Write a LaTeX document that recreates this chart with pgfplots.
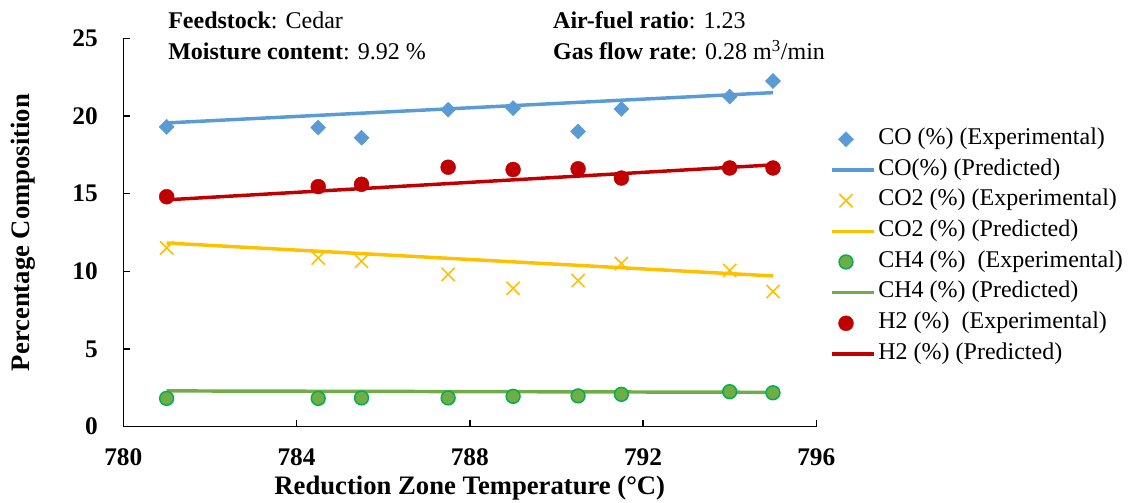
\documentclass[border=0pt]{standalone}
\usepackage{fontspec}
\setmainfont{Liberation Serif}
\usepackage{pgfplots}
\pgfplotsset{compat=1.18}
\definecolor{COBlue}{HTML}{5B9BD5}
\definecolor{COTwoGold}{HTML}{FFC000}
\definecolor{MethGreen}{HTML}{70AD47}
\definecolor{MethEdge}{HTML}{00B050}
\definecolor{HTwoRed}{HTML}{C00000}

\begin{document}
\begin{tikzpicture}
\path[use as bounding box] (-92.5pt,-57.2pt) rectangle (755.8pt,320pt);
\begin{axis}[
    at={(0pt,0pt)},
    anchor=south west,
    scale only axis,
    width=519.75pt,
    height=291.3pt,
    xmin=780, xmax=796,
    ymin=0, ymax=25,
    xtick={780,784,788,792,796},
    ytick={0,5,10,15,20,25},
    axis x line=bottom,
    axis y line=left,
    axis line style={-, black, line width=1.1pt},
    tick style={black, line width=1.1pt},
    tick align=inside,
    major tick length=5pt,
    clip=false,
    /pgf/number format/assume math mode=true,
    ticklabel style={font=\fontsize{19}{22}\selectfont\bfseries},
    xticklabel style={inner sep=0pt, anchor=north, yshift=-16pt},
    yticklabel style={inner sep=0pt, anchor=east, xshift=-19pt},
    xlabel={Reduction Zone Temperature (°C)},
    ylabel={Percentage Composition},
    label style={font=\fontsize{20}{24}\selectfont\bfseries},
    xlabel style={at={(axis description cs:0.5,-0.159)}, anchor=center, inner sep=0pt},
    ylabel style={at={(axis description cs:-0.1440,0.5)}, anchor=center, inner sep=0pt},
    legend cell align=left,
    legend style={
        draw=none,
        fill=none,
        at={(axis description cs:1.0198,0.7800)},
        anchor=north west,
        inner sep=0pt,
        row sep=0pt,
        font=\fontsize{18}{21}\selectfont,
        nodes={inner xsep=2pt, inner ysep=0pt, text height=15.5pt, text depth=7.5pt}
    },
    legend image code/.code={
        \draw[mark repeat=2, mark phase=2]
        plot coordinates {(0pt,0pt) (10.5pt,0pt) (31.5pt,0pt)};
    }
]

% CO
\addplot[only marks, mark=square*, mark size=4pt,
    mark options={rotate=45, fill=COBlue, draw=COBlue, line width=0.3pt}]
coordinates {
    (781,19.3) (784.5,19.25) (785.5,18.6) (787.5,20.4) (789,20.5)
    (790.5,19.0) (791.5,20.45) (794,21.25) (795,22.25)
};
\addlegendentry{CO (\%) (Experimental)}

\addplot[COBlue, line width=2.6pt, no marks]
coordinates {(781,19.55) (795,21.5)};
\addlegendentry{CO(\%) (Predicted)}

% CO2
\addplot[only marks, mark=x, mark size=7pt,
    mark options={draw=COTwoGold, line width=1.2pt}]
coordinates {
    (781,11.5) (784.5,10.85) (785.5,10.65) (787.5,9.8) (789,8.9)
    (790.5,9.4) (791.5,10.5) (794,10.05) (795,8.7)
};
\addlegendentry{CO2 (\%) (Experimental)}

\addplot[COTwoGold, line width=2.6pt, no marks]
coordinates {(781,11.82) (795,9.7)};
\addlegendentry{CO2 (\%) (Predicted)}

% CH4
\addplot[only marks, mark=*, mark size=5.2pt,
    mark options={fill=MethGreen, draw=MethEdge, line width=1.1pt}]
coordinates {
    (781,1.82) (784.5,1.82) (785.5,1.85) (787.5,1.85) (789,1.95)
    (790.5,1.98) (791.5,2.08) (794,2.25) (795,2.18)
};
\addlegendentry{CH4 (\%)\ \ (Experimental)}

\addplot[MethGreen, line width=2.6pt, no marks]
coordinates {(781,2.3) (795,2.21)};
\addlegendentry{CH4 (\%) (Predicted)}

% H2
\addplot[only marks, mark=*, mark size=5.6pt,
    mark options={fill=HTwoRed, draw=HTwoRed, line width=0.3pt}]
coordinates {
    (781,14.8) (784.5,15.45) (785.5,15.6) (787.5,16.7) (789,16.55)
    (790.5,16.6) (791.5,16.0) (794,16.65) (795,16.65)
};
\addlegendentry{H2 (\%)\ \ (Experimental)}

\addplot[HTwoRed, line width=2.6pt, no marks]
coordinates {(781,14.6) (795,16.85)};
\addlegendentry{H2 (\%) (Predicted)}

% run conditions
\node[anchor=base west, inner sep=0pt, font=\fontsize{18}{21}\selectfont]
    at (axis description cs:0.0645,1.024) {\textbf{Feedstock}: Cedar};
\node[anchor=base west, inner sep=0pt, font=\fontsize{18}{21}\selectfont]
    at (axis description cs:0.0645,0.9454) {\textbf{Moisture content}: 9.92 \%};
\node[anchor=base west, inner sep=0pt, font=\fontsize{18}{21}\selectfont]
    at (axis description cs:0.620,1.024) {\textbf{Air-fuel ratio}: 1.23};
\node[anchor=base west, inner sep=0pt, font=\fontsize{18}{21}\selectfont]
    at (axis description cs:0.620,0.9454) {\textbf{Gas flow rate}: 0.28 m\textsuperscript{3}/min};

\end{axis}
\end{tikzpicture}
\end{document}
